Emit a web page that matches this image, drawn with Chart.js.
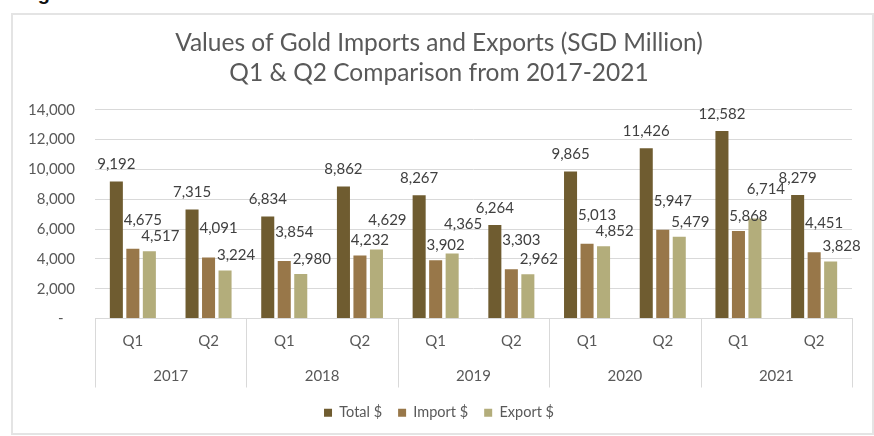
<!DOCTYPE html>
<html>
<head>
<meta charset="utf-8">
<script src="https://cdn.jsdelivr.net/npm/chart.js@4"></script>
<style>
  html, body { margin: 0; padding: 0; background: #fff; }
  #wrap { position: relative; width: 874px; height: 436px; overflow: hidden; }
  #cap { position: absolute; left: 20px; top: -18px; font: bold 20px "Liberation Sans", Arial, sans-serif; color: #111; }
  #frame { position: absolute; left: 11px; top: 13px; width: 859px; height: 418px; border: 2px solid #e4e4e4; }
  canvas { position: absolute; left: 0; top: 0; }
</style>
</head>
<body>
<div id="wrap">
  <div id="cap">Figure 3</div>
  <div id="frame"></div>
  <canvas id="goldChart" width="874" height="436"></canvas>
</div>
<script>
// Gold imports / exports, SGD million
const quarters = ["Q1", "Q2", "Q1", "Q2", "Q1", "Q2", "Q1", "Q2", "Q1", "Q2"];
const years = ["2017", "2018", "2019", "2020", "2021"];
const totalValues = [9192, 7315, 6834, 8862, 8267, 6264, 9865, 11426, 12582, 8279];
const importValues = [4675, 4091, 3854, 4232, 3902, 3303, 5013, 5947, 5868, 4451];
const exportValues = [4517, 3224, 2980, 4629, 4365, 2962, 4852, 5479, 6714, 3828];
const yMax = 14000;
const yStep = 2000;

const textColor = "#595959";
const fontFamily = "Lato, 'Open Sans', sans-serif";

// value labels: totals sit centred above the bar; for import/export the
// taller bar of the pair gets the upper label, the shorter one the lower
const valueLabels = {
  id: "valueLabels",
  afterDatasetsDraw(chart) {
    const ctx = chart.ctx;
    const bars = [0, 1, 2].map(i => chart.getDatasetMeta(i).data);
    ctx.save();
    ctx.font = "15px " + fontFamily;
    ctx.fillStyle = "#404040";
    ctx.textAlign = "center";
    ctx.textBaseline = "middle";
    for (let j = 0; j < quarters.length; j++) {
      const t = bars[0][j], im = bars[1][j], ex = bars[2][j];
      ctx.fillText(totalValues[j].toLocaleString("en-US"), t.x, t.y - 17);
      const importHigher = importValues[j] >= exportValues[j];
      ctx.fillText(importValues[j].toLocaleString("en-US"), im.x + 10, im.y + (importHigher ? -29 : -15));
      ctx.fillText(exportValues[j].toLocaleString("en-US"), ex.x + 11, ex.y + (importHigher ? -15 : -29));
    }
    ctx.restore();
  }
};

// vertical lines between the year groups on the category axis
const yearDividers = {
  id: "yearDividers",
  afterDraw(chart) {
    const x = chart.scales.x;
    const x2 = chart.scales.x2;
    const ctx = chart.ctx;
    ctx.save();
    ctx.strokeStyle = "#d9d9d9";
    ctx.lineWidth = 1;
    for (let i = 0; i <= years.length; i++) {
      const px = Math.round(x.left + (x.right - x.left) * i / years.length) + 0.5;
      ctx.beginPath();
      ctx.moveTo(px, x.top);
      ctx.lineTo(px, x2.top + 23);
      ctx.stroke();
    }
    ctx.restore();
  }
};

new Chart(document.getElementById("goldChart"), {
  type: "bar",
  data: {
    labels: quarters,
    datasets: [
      { label: "Total $", data: totalValues, backgroundColor: "#6f5c30" },
      { label: "Import $", data: importValues, backgroundColor: "#987749" },
      { label: "Export $", data: exportValues, backgroundColor: "#b3ad7b" }
    ]
  },
  options: {
    responsive: false,
    animation: false,
    categoryPercentage: 0.654,
    barPercentage: 0.79,
    layout: { padding: { left: 26, right: 22, top: 0, bottom: 6 } },
    plugins: {
      title: {
        display: true,
        text: ["Values of Gold Imports and Exports (SGD Million)", "Q1 & Q2 Comparison from 2017-2021"],
        color: textColor,
        font: { family: fontFamily, size: 24.5, weight: "normal", lineHeight: 1.22 },
        padding: { top: 28, bottom: 22 }
      },
      legend: {
        position: "bottom",
        labels: {
          color: textColor,
          font: { family: fontFamily, size: 14.5 },
          boxWidth: 8,
          boxHeight: 8,
          padding: 16
        }
      },
      tooltip: { enabled: false }
    },
    scales: {
      y: {
        min: 0,
        max: yMax,
        ticks: {
          stepSize: yStep,
          color: textColor,
          font: { family: fontFamily, size: 15 },
          padding: 20,
          callback: v => v === 0 ? "-   " : v.toLocaleString("en-US")
        },
        grid: { color: "#d9d9d9", drawTicks: false },
        border: { display: false },
        afterFit: s => { s.width = 69; }
      },
      x: {
        grid: { display: false, drawTicks: false },
        border: { color: "#d9d9d9" },
        ticks: {
          color: textColor,
          font: { family: fontFamily, size: 15 },
          padding: 14,
          maxRotation: 0
        }
      },
      x2: {
        type: "category",
        labels: years,
        position: "bottom",
        offset: true,
        weight: 1,
        grid: { display: false, drawTicks: false },
        border: { display: false },
        ticks: {
          color: textColor,
          font: { family: fontFamily, size: 15 },
          padding: 3,
          maxRotation: 0
        },
        afterFit: s => { s.height = 25; }
      }
    }
  },
  plugins: [valueLabels, yearDividers]
});
</script>
</body>
</html>
